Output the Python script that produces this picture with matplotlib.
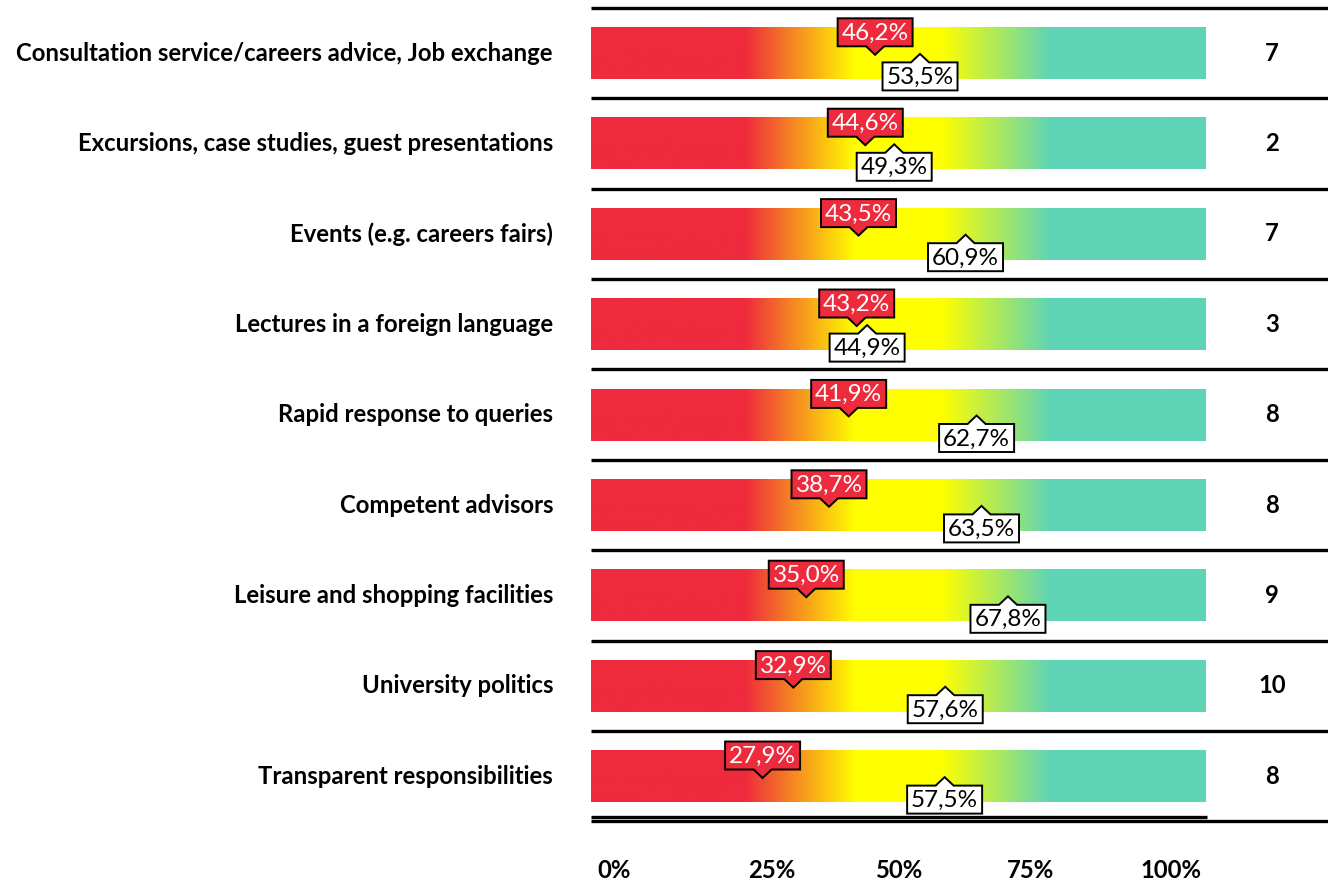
import numpy as np
import matplotlib
matplotlib.use("Agg")
import matplotlib.pyplot as plt
from matplotlib.patches import Polygon
from matplotlib.colors import LinearSegmentedColormap

categories = ["Consultation service/careers advice, Job exchange",
              "Excursions, case studies, guest presentations",
              "Events (e.g. careers fairs)",
              "Lectures in a foreign language",
              "Rapid response to queries",
              "Competent advisors",
              "Leisure and shopping facilities",
              "University politics",
              "Transparent responsibilities"]
red_values = [46.2, 44.6, 43.5, 43.2, 41.9, 38.7, 35.0, 32.9, 27.9]
white_values = [53.5, 49.3, 60.9, 44.9, 62.7, 63.5, 67.8, 57.6, 57.5]
counts = [7, 2, 7, 3, 8, 8, 9, 10, 8]
tick_labels = ["0%", "25%", "50%", "75%", "100%"]
tick_pos = [3.7, 29.4, 50.1, 71.4, 94.3]

plt.rcParams['font.family'] = ['Lato', 'DejaVu Sans']

W, H = 1328, 883
fig = plt.figure(figsize=(W / 100, H / 100), dpi=100)
ax = fig.add_axes([0, 0, 1, 1])
px_x = 6.15   # pixels per percent
x0 = 591
row_px = 90.4
y0 = 53
ax.set_xlim(-x0 / px_x, (W - x0) / px_x)
ax.set_ylim((H - y0) / row_px, -y0 / row_px)
ax.axis('off')

cmap = LinearSegmentedColormap.from_list("g", [
    (0.0, "#EE2A3D"), (0.249, "#EE2A3D"), (0.43, "#FFFF00"),
    (0.57, "#FFFF00"), (0.748, "#5FD4B6"), (1.0, "#5FD4B6")])
grad = np.linspace(0, 1, 512).reshape(1, -1)

bar_h = 0.575
n = len(categories)
ypos = np.arange(n)
bars = ax.barh(ypos, [100] * n, height=bar_h, left=0, color='none', edgecolor='none')
for i, b in enumerate(bars):
    im = ax.imshow(grad, cmap=cmap, aspect='auto',
                   extent=[0, 100, i + bar_h / 2, i - bar_h / 2], zorder=1)
    im.set_clip_path(b)

# separator lines
right_lim = (W - x0) / px_x
for k in range(n):
    ax.plot([0, right_lim], [k - 0.5, k - 0.5], color='black', lw=2.4, solid_capstyle='butt', zorder=2)
ax.plot([0, 100.2], [n - 0.545, n - 0.545], color='black', lw=2.4, solid_capstyle='butt', zorder=2)
ax.plot([0, right_lim], [n - 0.5, n - 0.5], color='black', lw=2.4, solid_capstyle='butt', zorder=2)

FS = 17.2
# category labels and counts
for i, (c, k) in enumerate(zip(categories, counts)):
    ax.text((553 - x0) / px_x, i, c, ha='right', va='center', fontsize=FS,
            fontweight='bold', color='black')
    ax.text((1272 - x0) / px_x, i, str(k), ha='center', va='center', fontsize=FS,
            fontweight='bold', color='black')

# callout labels
bw = 37.5 / px_x   # half width
bh = 28 / row_px   # box height
ph = 8.5 / row_px  # pointer height
pw = 9 / px_x      # pointer half width
CFS = 17.5


def fmt(v):
    return f"{v:.1f}%".replace('.', ',')


for i, (rv, wv) in enumerate(zip(red_values, white_values)):
    # red: above, pointer down
    tip = i + 0.02
    bot = tip - ph
    top = bot - bh
    poly = [(rv - bw, top), (rv + bw, top), (rv + bw, bot), (rv + pw, bot), (rv, tip),
            (rv - pw, bot), (rv - bw, bot)]
    ax.add_patch(Polygon(poly, closed=True, facecolor="#EE2A3D", edgecolor='black', lw=1.4, zorder=5))
    ax.text(rv, (top + bot) / 2 + 0.01, fmt(rv), ha='center', va='center', fontsize=CFS,
            color='white', zorder=6)
    # white: below, pointer up
    tip = i + 0.01
    tb = tip + ph
    bb = tb + bh
    poly = [(wv - bw, tb), (wv - pw, tb), (wv, tip), (wv + pw, tb), (wv + bw, tb),
            (wv + bw, bb), (wv - bw, bb)]
    ax.add_patch(Polygon(poly, closed=True, facecolor="white", edgecolor='black', lw=1.4, zorder=5))
    ax.text(wv, (tb + bb) / 2 + 0.01, fmt(wv), ha='center', va='center', fontsize=CFS,
            color='black', zorder=6)

for p, t in zip(tick_pos, tick_labels):
    ax.text(p, (871 - y0) / row_px, t, ha='center', va='center', fontsize=FS,
            fontweight='bold', color='black')

fig.savefig("out.png", dpi=100)
